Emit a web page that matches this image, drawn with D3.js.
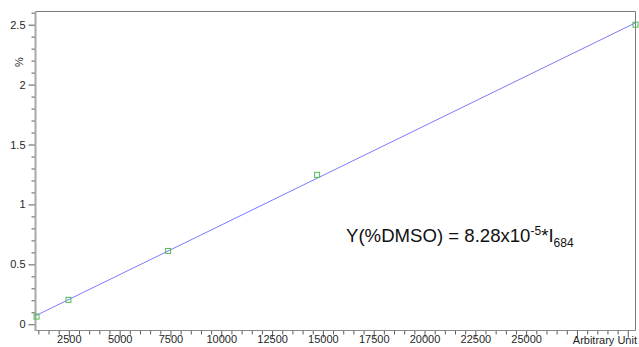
<!DOCTYPE html>
<html>
<head>
<meta charset="utf-8">
<script src="https://cdn.jsdelivr.net/npm/d3@7"></script>
<style>
  html, body { margin: 0; padding: 0; background: #fff; }
  svg { display: block; font-family: "Liberation Sans", Arial, sans-serif; }
</style>
</head>
<body>
<svg id="chart" width="639" height="347"></svg>
<script>
// Calibration standards: detector intensity (arbitrary units) vs. %DMSO
const intensity = [910, 2480, 7385, 14715, 30380];
const dmsoPct = [0.064, 0.204, 0.612, 1.247, 2.5];

// Fitted calibration slope (%DMSO per intensity unit)
const slope = 8.28e-5;

// Axis ticks
const xMajorTicks = [2500, 5000, 7500, 10000, 12500, 15000, 17500, 20000, 22500, 25000, 27500, 30000];
const xTickLabels = ["2500", "5000", "7500", "10000", "12500", "15000", "17500", "20000", "22500", "25000"];
const yMajorTicks = [0, 0.5, 1, 1.5, 2, 2.5];
const yTickLabels = ["0", "0.5", "1", "1.5", "2", "2.5"];

const xDomain = [860, 30380];
const yDomain = [-0.052, 2.61];

const svg = d3.select("#chart");
const plotL = 35.5, plotR = 635.5, plotT = 11.5, plotB = 330.5;

const x = d3.scaleLinear().domain(xDomain).range([plotL, plotR]);
const y = d3.scaleLinear().domain(yDomain).range([plotB, plotT]);

const axisColor = "#8a8a8a";
const textColor = "#262626";
const fontFam = "Liberation Sans, Arial, sans-serif";

// Frame: top and right borders
svg.append("path")
  .attr("d", `M${plotL},${plotT}H${plotR}V${plotB}`)
  .attr("fill", "none").attr("stroke", "#7a7a7a").attr("stroke-width", 1);

// Y axis with minor ticks every 0.1
const yMinor = d3.range(0, 27).map(i => i / 10)
  .filter(v => !yMajorTicks.some(m => Math.abs(m - v) < 1e-9));
const yAxis = svg.append("g").attr("transform", `translate(${plotL},0)`)
  .call(d3.axisLeft(y).tickValues(yMinor).tickSize(4).tickFormat(""));
yAxis.select(".domain").remove();
const yMaj = svg.append("g").attr("transform", `translate(${plotL},0)`)
  .call(d3.axisLeft(y).tickValues(yMajorTicks).tickSize(7).tickPadding(3)
    .tickFormat((d, i) => yTickLabels[i]));
yMaj.select(".domain").remove();
yMaj.selectAll("text").attr("font-size", 11).attr("fill", textColor).attr("font-family", fontFam);

// X axis with minor ticks every 500
const xMinor = d3.range(1000, 30001, 500).filter(v => v % 2500 !== 0);
const xAxis = svg.append("g").attr("transform", `translate(0,${plotB})`)
  .call(d3.axisBottom(x).tickValues(xMinor).tickSize(4).tickFormat(""));
xAxis.select(".domain").remove();
const xMaj = svg.append("g").attr("transform", `translate(0,${plotB})`)
  .call(d3.axisBottom(x).tickValues(xMajorTicks).tickSize(7)
    .tickFormat((d, i) => xTickLabels[i] || ""));
xMaj.select(".domain").remove();
xMaj.selectAll("text").attr("y", 5).attr("font-size", 11).attr("fill", textColor).attr("font-family", fontFam);
svg.selectAll(".tick line").attr("stroke", "#5a5a5a");

// Axis lines
svg.append("line").attr("x1", plotL).attr("x2", plotR).attr("y1", plotB).attr("y2", plotB)
  .attr("stroke", axisColor).attr("stroke-width", 1);
svg.append("line").attr("x1", plotL).attr("x2", plotL).attr("y1", plotT).attr("y2", plotB + 0.5)
  .attr("stroke", "#a8a8a8").attr("stroke-width", 2);

// Axis titles
svg.append("text")
  .attr("x", 637).attr("y", 343.5)
  .attr("text-anchor", "end").attr("font-size", 11).attr("fill", textColor)
  .text("Arbitrary Unit");
svg.append("text")
  .attr("transform", "translate(23,62) rotate(-90)")
  .attr("text-anchor", "middle").attr("font-size", 11).attr("fill", textColor)
  .text("%");

// Calibration line from the fitted slope
const fit = xDomain.map(v => [v, slope * v]);
svg.append("path")
  .datum(fit)
  .attr("d", d3.line().x(d => x(d[0])).y(d => y(d[1])))
  .attr("fill", "none").attr("stroke", "#7b7bff").attr("stroke-width", 1);

// Standards as open squares
svg.append("g").selectAll("rect")
  .data(intensity.map((v, i) => [v, dmsoPct[i]]))
  .join("rect")
  .attr("x", d => x(d[0]) - 2.5).attr("y", d => y(d[1]) - 2.5)
  .attr("width", 5).attr("height", 5)
  .attr("fill", "none").attr("stroke", "#52b852").attr("stroke-width", 1);

// Equation annotation
const eq = svg.append("text")
  .attr("x", 346).attr("y", 242)
  .attr("font-size", 18.6).attr("fill", "#111");
eq.append("tspan").text("Y(%DMSO) = 8.28x10");
eq.append("tspan").attr("font-size", 12).attr("dy", -7).text("-5");
eq.append("tspan").attr("dy", 7).text("*I");
eq.append("tspan").attr("font-size", 12).attr("dy", 5).text("684");
</script>
</body>
</html>
